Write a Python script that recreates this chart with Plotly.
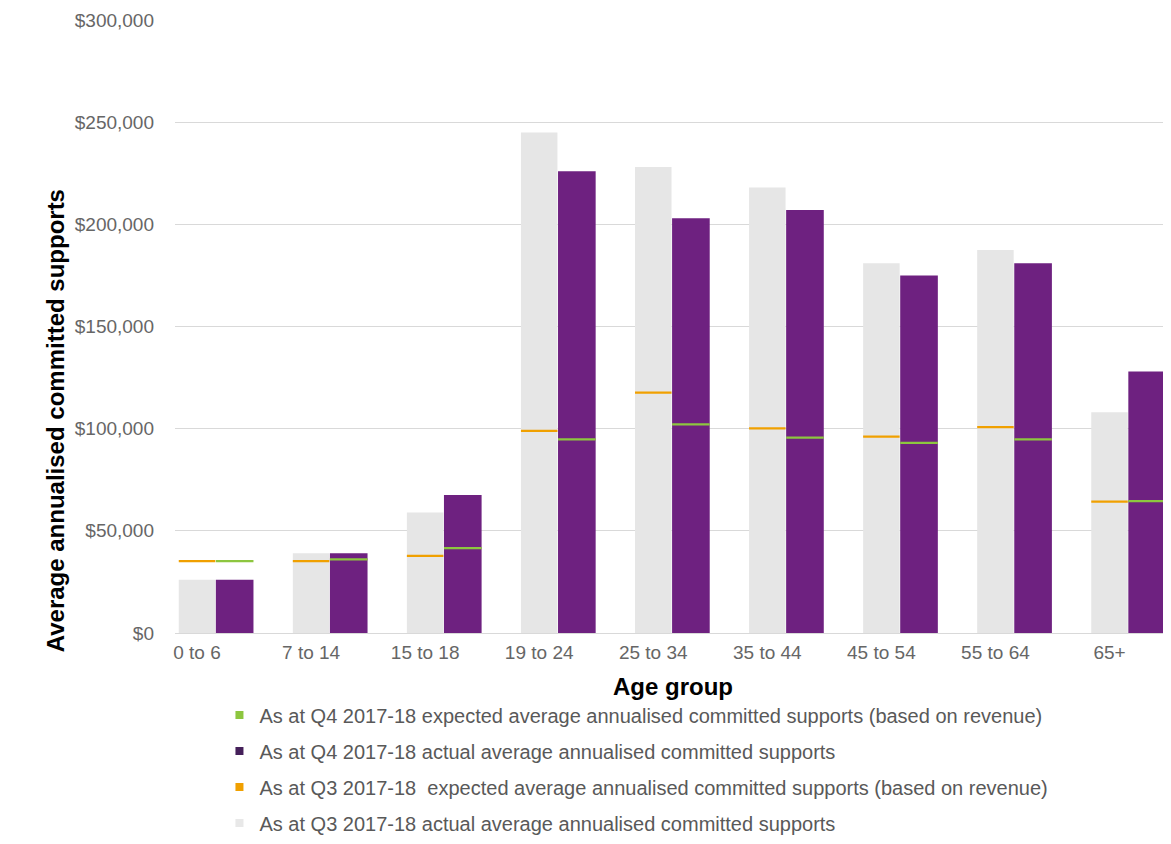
import plotly.graph_objects as go

categories = ["0 to 6", "7 to 14", "15 to 18", "19 to 24", "25 to 34",
              "35 to 44", "45 to 54", "55 to 64", "65+"]
q3_actual = [26000, 39000, 59000, 245000, 228000, 218000, 181000, 187500, 108000]
q4_actual = [26000, 39000, 67500, 226000, 203000, 207000, 175000, 181000, 128000]
q3_expected = [35200, 35200, 37700, 98900, 117600, 100200, 96100, 100700, 64300]
q4_expected = [35200, 36000, 41500, 94800, 102100, 95600, 93100, 94800, 64500]

legend_names = [
    "As at Q4 2017-18 expected average annualised committed supports (based on revenue)",
    "As at Q4 2017-18 actual average annualised committed supports",
    "As at Q3 2017-18  expected average annualised committed supports (based on revenue)",
    "As at Q3 2017-18 actual average annualised committed supports",
]

GREY = "#e6e6e6"
PURPLE = "#6e2180"
GREEN = "#8dc63f"
ORANGE = "#f0a000"
BAR_W = 0.32
LINE_T = 1100  # thickness of expected-value marker in data units
FONT = "Liberation Sans, Arial, sans-serif"

fig = go.Figure()

# Q3 actual (grey) centred on category
fig.add_trace(go.Bar(x=categories, y=q3_actual, width=BAR_W, offset=-BAR_W / 2,
                     marker=dict(color=GREY, line=dict(width=0)), showlegend=False))
# Q3 expected markers over grey bars
fig.add_trace(go.Bar(x=categories, y=[LINE_T] * len(categories),
                     base=[v - LINE_T / 2 for v in q3_expected],
                     width=BAR_W, offset=-BAR_W / 2,
                     marker=dict(color=ORANGE, line=dict(width=0)), showlegend=False))
# Q4 actual (purple) to the right
fig.add_trace(go.Bar(x=categories, y=q4_actual, width=BAR_W + 0.01, offset=BAR_W / 2 + 0.005,
                     marker=dict(color=PURPLE, line=dict(width=0)), showlegend=False))
# Q4 expected markers over purple bars
fig.add_trace(go.Bar(x=categories, y=[LINE_T] * len(categories),
                     base=[v - LINE_T / 2 for v in q4_expected],
                     width=BAR_W + 0.01, offset=BAR_W / 2 + 0.005,
                     marker=dict(color=GREEN, line=dict(width=0)), showlegend=False))

# Legend entries
legend_colors = [GREEN, "#45205a", ORANGE, "#e8e8e8"]
for i, (name, col) in enumerate(zip(legend_names, legend_colors)):
    fig.add_trace(go.Scatter(x=[None], y=[None], mode="markers", name=name,
                             legendgroup=f"g{i}",
                             marker=dict(symbol="square", size=8, color=col)))

fig.update_layout(
    width=1155, height=828,
    margin=dict(l=167, r=0, t=12, b=203, autoexpand=False),
    paper_bgcolor="white", plot_bgcolor="white",
    barmode="overlay",
    font=dict(family=FONT, color="#595959", size=19),
    xaxis=dict(type="category", range=[-0.193, 8.469], showgrid=False,
               showline=True, linecolor="#d9d9d9", linewidth=1, ticks="",
               tickfont=dict(size=19, color="#666666"), ticklabelstandoff=2),
    yaxis=dict(range=[0, 300000], tickvals=[0, 50000, 100000, 150000, 200000, 250000, 300000],
               ticktext=["$0", "$50,000", "$100,000", "$150,000", "$200,000", "$250,000", "$300,000"],
               showgrid=True, gridcolor="#d9d9d9", gridwidth=1, zeroline=False,
               ticks="", tickfont=dict(size=19, color="#666666"), ticklabelstandoff=20),
    legend=dict(x=0.045, y=0.1697, xref="paper", yref="container",
                xanchor="left", yanchor="top",
                traceorder="grouped", tracegroupgap=7,
                font=dict(size=20, color="#595959"), itemwidth=30,
                bgcolor="rgba(0,0,0,0)"),
    annotations=[
        dict(text="<b>Average annualised committed supports</b>", textangle=-90,
             x=-0.1215, y=0.347, xref="paper", yref="paper", showarrow=False,
             xanchor="center", yanchor="middle",
             font=dict(size=24, color="black", family=FONT)),
        dict(text="<b>Age group</b>", x=0.504, y=-0.0865, xref="paper", yref="paper",
             showarrow=False, xanchor="center", yanchor="middle",
             font=dict(size=24, color="black", family=FONT)),
    ],
)

fig.write_html("out.html")
